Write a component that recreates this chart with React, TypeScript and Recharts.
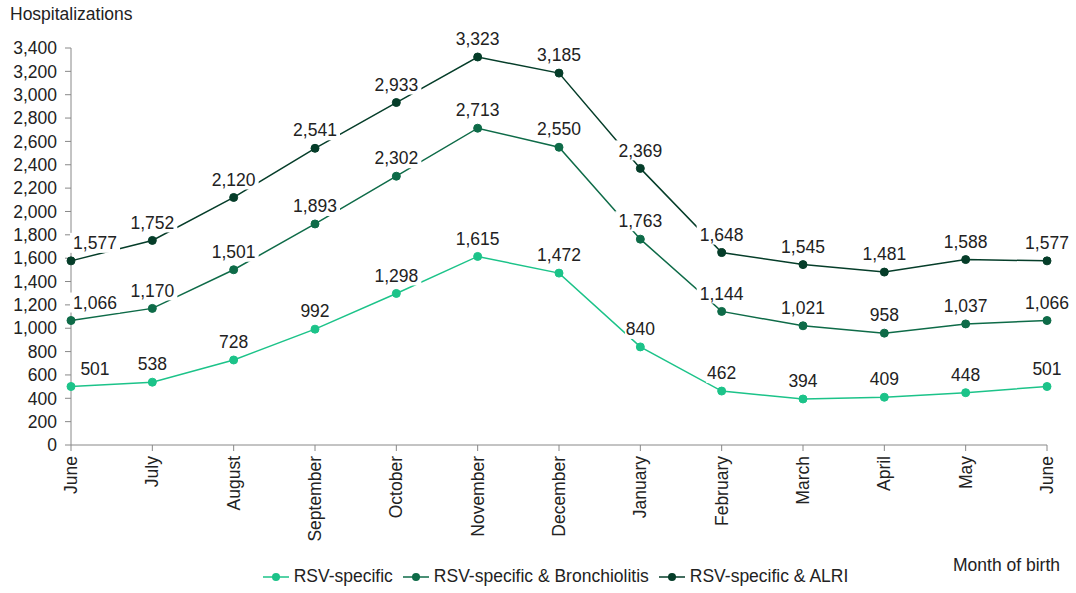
import { LineChart, Line, XAxis, YAxis, Legend } from 'recharts';

const months = [
  'June', 'July', 'August', 'September', 'October', 'November', 'December',
  'January', 'February', 'March', 'April', 'May', 'June',
];
const rsvSpecific = [501, 538, 728, 992, 1298, 1615, 1472, 840, 462, 394, 409, 448, 501];
const rsvBronchiolitis = [1066, 1170, 1501, 1893, 2302, 2713, 2550, 1763, 1144, 1021, 958, 1037, 1066];
const rsvAlri = [1577, 1752, 2120, 2541, 2933, 3323, 3185, 2369, 1648, 1545, 1481, 1588, 1577];
const yTicks = [0, 200, 400, 600, 800, 1000, 1200, 1400, 1600, 1800, 2000, 2200, 2400, 2600, 2800, 3000, 3200, 3400];

const seriesNames = ['RSV-specific', 'RSV-specific & Bronchiolitis', 'RSV-specific & ALRI'];
const seriesColors = ['#1cc389', '#0e6b48', '#053d29'];

const data = months.map((m, i) => ({
  idx: i,
  month: m,
  specific: rsvSpecific[i],
  bronchiolitis: rsvBronchiolitis[i],
  alri: rsvAlri[i],
}));

const FONT = '"Liberation Sans", Arial, sans-serif';
const FS = 17.5;
const fmt = (v: number) => v.toLocaleString('en-US');

const ValueLabel = (props: any) => {
  const { x, y, value, index } = props;
  const text = fmt(value);
  const w = text.length * 9.6 + 2;
  const cx = index === 0 ? x + 24 : x;
  const cy = y - 18;
  return (
    <g>
      <rect x={cx - w / 2} y={cy - 10} width={w} height={20} fill="#fff" />
      <text x={cx} y={cy} dy="0.35em" textAnchor="middle" fontSize={FS} fill="#222" fontFamily={FONT}>
        {text}
      </text>
    </g>
  );
};

const MonthTick = (props: any) => {
  const { x, y, payload } = props;
  return (
    <text
      transform={`translate(${x},${y + 3}) rotate(-90)`}
      dy="0.35em"
      textAnchor="end"
      fontSize={FS}
      fill="#222"
      fontFamily={FONT}
    >
      {months[payload.value]}
    </text>
  );
};

const LegendContent = () => (
  <div style={{ display: 'flex', justifyContent: 'center', gap: 10, fontSize: FS, fontFamily: FONT, color: '#222', paddingLeft: 64 }}>
    {seriesNames.map((n, i) => (
      <div key={n} style={{ display: 'flex', alignItems: 'center' }}>
        <svg width={26} height={12} style={{ marginRight: 5 }}>
          <line x1={0} y1={6} x2={26} y2={6} stroke={seriesColors[i]} strokeWidth={1.5} />
          <circle cx={13} cy={6} r={4} fill={seriesColors[i]} />
        </svg>
        <span>{n}</span>
      </div>
    ))}
  </div>
);

export default function App() {
  return (
    <div style={{ position: 'absolute', left: 0, top: 0, width: 1076, height: 593, background: '#fff', fontFamily: FONT }}>
      <div style={{ position: 'absolute', left: 10, top: 4, fontSize: FS, color: '#222' }}>Hospitalizations</div>
      <div style={{ position: 'absolute', left: 953, top: 555, fontSize: FS, color: '#222' }}>Month of birth</div>
      <LineChart width={1076} height={593} data={data} margin={{ top: 48, right: 29, left: 0, bottom: 6 }}>
        <XAxis
          dataKey="idx"
          type="number"
          domain={[0, 12]}
          ticks={months.map((_, i) => i)}
          interval={0}
          tick={<MonthTick />}
          tickSize={6}
          height={121}
          axisLine={{ stroke: '#888' }}
          tickLine={{ stroke: '#888' }}
        />
        <YAxis
          domain={[0, 3400]}
          ticks={yTicks}
          interval={0}
          width={71}
          tickSize={6}
          tickMargin={8}
          tickFormatter={fmt}
          tick={{ fontSize: FS, fill: '#222', fontFamily: FONT }}
          axisLine={{ stroke: '#888' }}
          tickLine={{ stroke: '#888' }}
        />
        <Legend verticalAlign="bottom" content={<LegendContent />} />
        <Line
          name={seriesNames[0]}
          dataKey="specific"
          stroke={seriesColors[0]}
          strokeWidth={1.5}
          dot={{ r: 4, fill: seriesColors[0], stroke: seriesColors[0], strokeWidth: 1 }}
          label={<ValueLabel />}
          isAnimationActive={false}
        />
        <Line
          name={seriesNames[1]}
          dataKey="bronchiolitis"
          stroke={seriesColors[1]}
          strokeWidth={1.5}
          dot={{ r: 4, fill: seriesColors[1], stroke: seriesColors[1], strokeWidth: 1 }}
          label={<ValueLabel />}
          isAnimationActive={false}
        />
        <Line
          name={seriesNames[2]}
          dataKey="alri"
          stroke={seriesColors[2]}
          strokeWidth={1.5}
          dot={{ r: 4, fill: seriesColors[2], stroke: seriesColors[2], strokeWidth: 1 }}
          label={<ValueLabel />}
          isAnimationActive={false}
        />
      </LineChart>
    </div>
  );
}
